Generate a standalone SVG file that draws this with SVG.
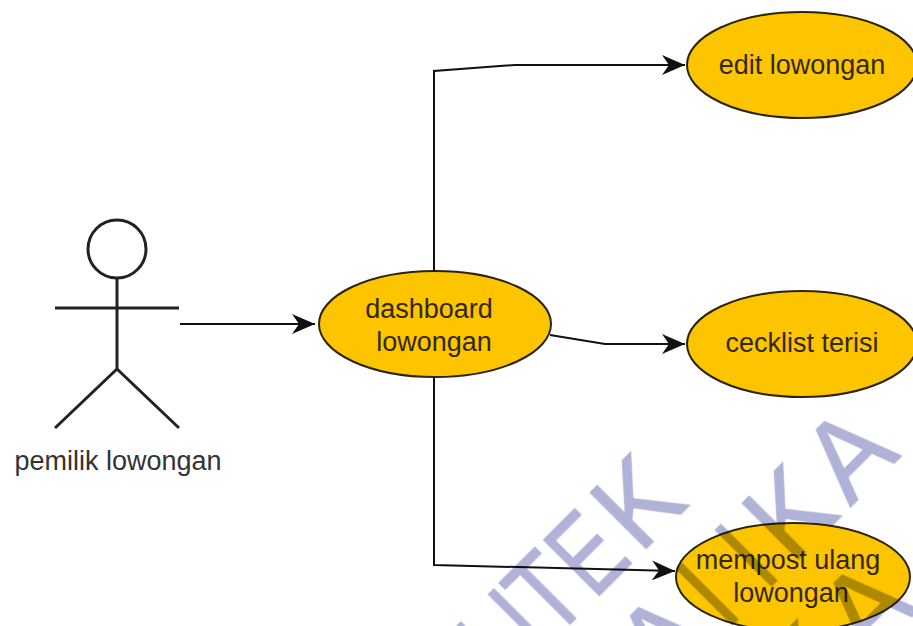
<svg xmlns="http://www.w3.org/2000/svg" width="913" height="626" viewBox="0 0 913 626">
<style>
text{font-family:"Liberation Sans",Arial,sans-serif}
.u ellipse{fill:#fdc400;stroke:#2a2410;stroke-width:2}
.u text{font-size:27px;fill:#33280f;text-anchor:middle}
.l{font-size:27px;fill:#333;text-anchor:middle}
.c path{fill:none;stroke:#111;stroke-width:2;marker-end:url(#a)}
.s{fill:none;stroke:#222;stroke-width:3}
.w{mix-blend-mode:multiply}
.w text{font-size:115px;fill:#b0b2d8;stroke:#b0b2d8;stroke-width:1.2;text-anchor:middle}
</style>
<defs><marker id="a" markerUnits="userSpaceOnUse" markerWidth="26" markerHeight="24" refX="23" refY="12" orient="auto"><path d="M0 2L23 12L0 22L7 12Z" fill="#111"/></marker></defs>
<rect width="913" height="626" fill="#fff"/>
<g id="actor">
<circle class="s" cx="117" cy="249" r="29"/>
<path class="s" d="M117 278V369M55 308H179M55 428L117 369L179 428"/>
<text class="l" x="118" y="470">pemilik lowongan</text>
</g>
<g id="dashboard" class="u"><ellipse cx="435" cy="324" rx="116" ry="53"/><text x="429" y="318">dashboard</text><text x="434" y="351">lowongan</text></g>
<g id="edit" class="u"><ellipse cx="802" cy="65" rx="115" ry="53"/><text x="802" y="74">edit lowongan</text></g>
<g id="ceklist" class="u"><ellipse cx="802" cy="344" rx="115" ry="53"/><text x="802" y="352">cecklist terisi</text></g>
<g id="mempost" class="u"><ellipse cx="793" cy="577" rx="117" ry="54"/><text x="788" y="569">mempost ulang</text><text x="791" y="602">lowongan</text></g>
<g class="c">
<path d="M180 324H315"/>
<path d="M434 272V71L515 65H685"/>
<path d="M550 335L605 344H685"/>
<path d="M434 378V565L675 571"/>
</g>
<g class="w" transform="rotate(-45)">
<text transform="translate(-105,845) scale(.75,1)">L</text>
<text transform="translate(-71,845) scale(.75,1)">I</text>
<text transform="translate(-34,845) scale(.78,1)">T</text>
<text transform="translate(24,845) scale(.74,1)">E</text>
<text transform="translate(96,845) scale(.93,1)">K</text>
<text transform="translate(16,960) scale(.95,1)">A</text>
<text transform="translate(80,960) scale(.75,1)">I</text>
<text transform="translate(135,960) scale(.75,1)">I</text>
<text transform="translate(196,960) scale(.93,1)">K</text>
<text transform="translate(279,960) scale(.95,1)">A</text>
<text transform="translate(96,1081) scale(.93,1)">K</text>
<text transform="translate(183,1081) scale(.95,1)">A</text>
</g>
</svg>
